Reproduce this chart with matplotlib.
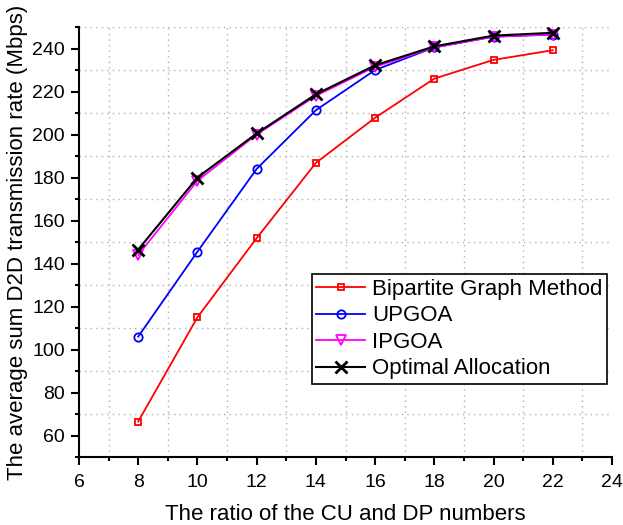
import matplotlib
matplotlib.use("Agg")
import matplotlib.pyplot as plt
from matplotlib.ticker import MultipleLocator

plt.rcParams['font.family'] = ['Liberation Sans', 'DejaVu Sans']

x = [8, 10, 12, 14, 16, 18, 20, 22]
bipartite = [66.5, 115.0, 151.8, 186.8, 207.8, 226.0, 234.7, 239.2]
upgoa = [106.0, 145.5, 184.0, 211.3, 230.0, 240.5, 245.5, 246.5]
ipgoa = [144.0, 178.5, 200.0, 218.0, 231.5, 240.5, 245.5, 246.5]
optimal = [146.5, 180.0, 200.5, 218.7, 232.2, 241.0, 246.0, 247.3]
labels = ["Bipartite Graph Method", "UPGOA", "IPGOA", "Optimal Allocation"]

fig = plt.figure(figsize=(6.23, 5.25), dpi=100)
ax = fig.add_axes([79/623, 1 - 457/525, 533/623, 430/525])

ax.plot(x, bipartite, color='red', lw=1.3, marker='s', ms=5, mfc='none', mew=1.3, label=labels[0])
ax.plot(x, upgoa, color='blue', lw=1.3, marker='o', ms=6, mfc='none', mew=1.3, label=labels[1])
ax.plot(x, ipgoa, color='magenta', lw=1.3, marker='v', ms=7, mfc='none', mew=1.3, label=labels[2])
ax.plot(x, optimal, color='black', lw=1.5, marker='x', ms=9, mew=2, label=labels[3])

ax.set_xlim(6, 24)
ax.set_ylim(50, 250)
ax.xaxis.set_major_locator(MultipleLocator(2))
ax.xaxis.set_minor_locator(MultipleLocator(1))
ax.yaxis.set_major_locator(MultipleLocator(20))
ax.yaxis.set_minor_locator(MultipleLocator(10))
ax.set_yticks([60, 80, 100, 120, 140, 160, 180, 200, 220, 240])

ax.grid(False)
ax.grid(True, which='minor', color='#b0b0b0', linestyle=(0, (1, 3)), lw=1)

for s in ['top', 'right']:
    ax.spines[s].set_visible(False)
for s in ['left', 'bottom']:
    ax.spines[s].set_linewidth(1.5)

ax.tick_params(which='major', direction='out', length=6, width=1.5, labelsize=14)
ax.tick_params(axis='x', which='major', pad=6.5)
ax.tick_params(axis='y', which='major', pad=4)
ax.tick_params(which='minor', direction='out', length=3, width=1.5)

ax.set_xlabel("The ratio of the CU and DP numbers", fontsize=16, labelpad=9)
ax.set_ylabel("The average sum D2D transmission rate (Mbps)", fontsize=16, labelpad=3)

leg = ax.legend(loc='lower right', bbox_to_anchor=(0.99, 0.17), fontsize=16,
                frameon=True, fancybox=False, edgecolor='black', framealpha=1,
                handlelength=2.2, borderpad=0.2, labelspacing=0.25, handletextpad=0.3,
                borderaxespad=0)
leg.get_frame().set_linewidth(1.2)

fig.savefig("out.png", dpi=100)
